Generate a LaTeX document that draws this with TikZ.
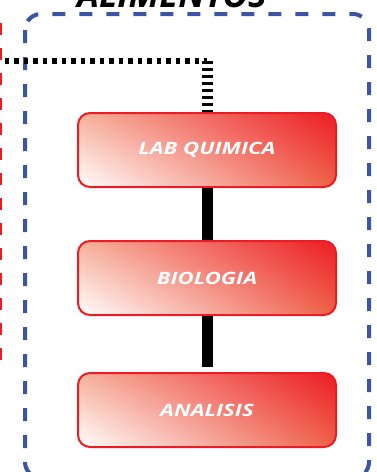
\documentclass[tikz,border=0pt]{standalone}
\usepackage{fontspec}
\setsansfont{Open Sans}
\newfontfamily\areafont[FakeStretch=1.3]{Open Sans}
\usepackage{tikz}
\usetikzlibrary{positioning, shadings}
\definecolor{AreaRed}{RGB}{237, 28, 36}
\definecolor{AreaSalmon}{RGB}{246, 178, 155}
\definecolor{AreaCoral}{RGB}{238, 98, 72}
\definecolor{GroupBlue}{RGB}{59, 84, 165}

\begin{document}
\begin{tikzpicture}[
    x=1pt, y=1pt,
    area/.style={rectangle, draw=AreaRed, line width=2pt, rounded corners=12pt, minimum width=258pt, minimum height=74pt, lower left=white, upper left=AreaSalmon, upper right=AreaRed, lower right=AreaCoral, text=white, font=\areafont\bfseries\itshape\fontsize{17}{20}\selectfont},
    link/.style={line width=11pt, black},
    feed/.style={line width=6pt, black, dash pattern=on 4.5pt off 5pt},
    drop/.style={line width=11pt, black, dash pattern=on 3pt off 4pt},
    group/.style={draw=GroupBlue, line width=4pt, dash pattern=on 13pt off 14pt, rounded corners=16pt},
    other/.style={draw=AreaRed, line width=2.5pt, dash pattern=on 12pt off 13pt},
    title/.style={font=\sffamily\bfseries\itshape\fontsize{35}{40}\selectfont, anchor=base}
]
    \useasboundingbox (0,0) rectangle (377,-472);
    \clip (0,0) rectangle (377,-472);

    % Grupos
    \draw[other] (1,-23) -- (1,-362);
    \draw[group] (25,-14) rectangle (369,-478);
    \node[title] (alimentos) at (172,-7) {ALIMENTOS};

    % Areas
    \node[area] (lab) at (207,-150) {LAB QUIMICA};
    \node[area, below=52pt of lab] (bio) {BIOLOGIA};
    \node[area, below=56pt of bio] (ana) {ANALISIS};

    % Conexiones
    \coordinate (src) at (-5,-61);
    \coordinate (bend) at (lab.north |- src);
    \draw[feed] (src) -- (bend);
    \draw[drop] (bend) -- (lab.north);
    \draw[link] (lab) -- (bio);
    \draw[link, shorten >=5pt] (bio) -- (ana);
\end{tikzpicture}
\end{document}
